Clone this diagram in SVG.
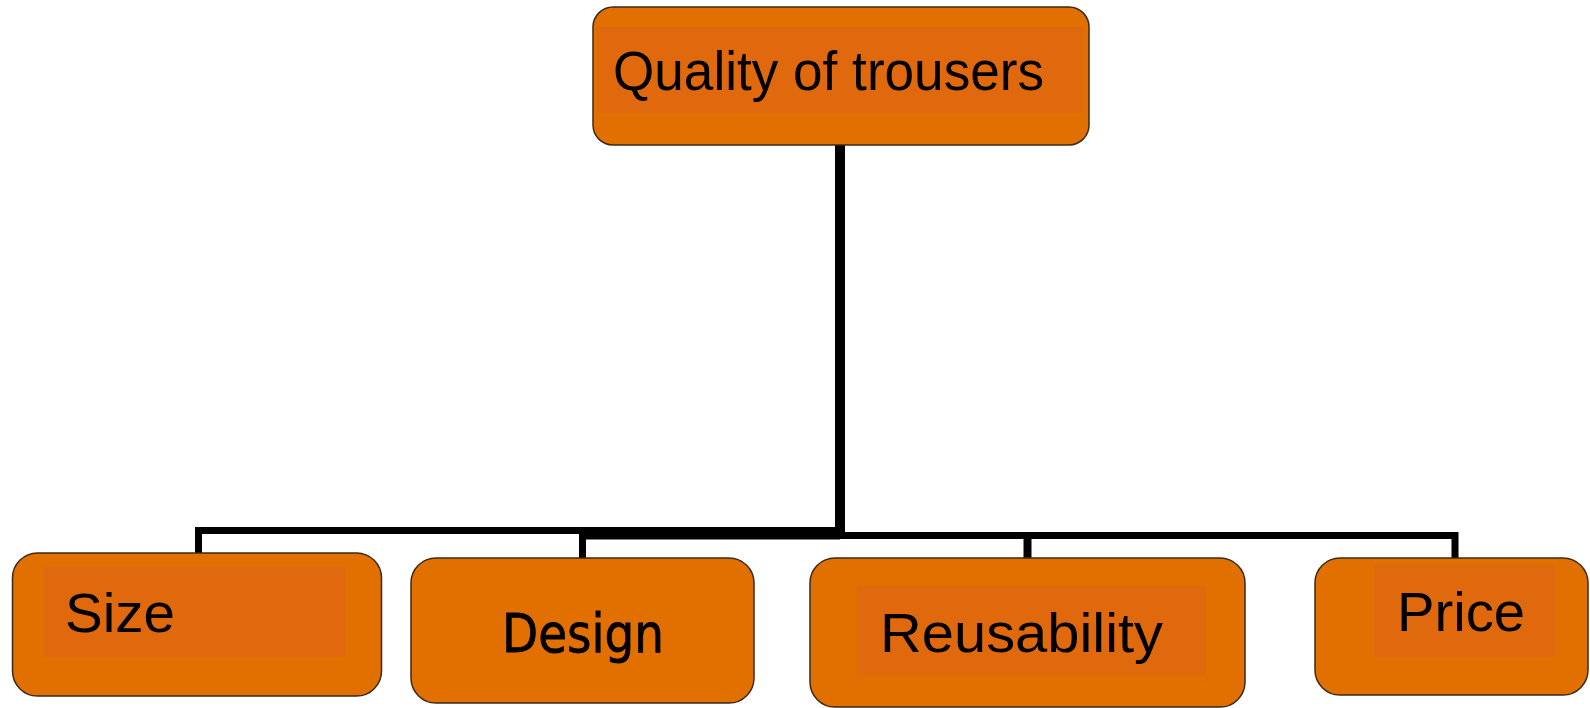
<svg xmlns="http://www.w3.org/2000/svg" width="1590" height="708" viewBox="0 0 1590 708">
<style>
.box{fill:#E17000;stroke:#3a2a1a;stroke-width:1.5}
.inner{fill:#E0690D}
.lbl{font-family:"Liberation Sans",Arial,sans-serif;font-size:56px;fill:#000}
.conn{fill:none;stroke:#000;stroke-linejoin:miter;stroke-linecap:butt}
</style>
<rect width="1590" height="708" fill="#fff"/>
<g id="connectors">
<path class="conn" stroke-width="7" d="M198.5 554 V530.5 H840"/>
<path class="conn" stroke-width="7" d="M582.5 559 V536 H840"/>
<path class="conn" stroke-width="10" d="M840 145 V539"/>
<path class="conn" stroke-width="7" d="M840 535.5 H1455 V559"/>
<path class="conn" stroke-width="8" d="M1027.5 535.5 V559"/>
</g>
<g id="node-quality">
<rect class="box" x="593" y="7" width="496" height="138" rx="20"/>
<rect class="inner" x="597" y="27" width="486" height="86"/>
<text class="lbl" x="613" y="90" textLength="431" lengthAdjust="spacingAndGlyphs">Quality of trousers</text>
</g>
<g id="node-size">
<rect class="box" x="12.5" y="553" width="369" height="143" rx="25"/>
<rect class="inner" x="44" y="566" width="302" height="91"/>
<text class="lbl" x="65" y="632" textLength="110" lengthAdjust="spacingAndGlyphs">Size</text>
</g>
<g id="node-design">
<rect class="box" x="411" y="558" width="343" height="145" rx="25"/>
<text x="502" y="652" font-family="'DejaVu Sans',Verdana,sans-serif" font-size="54" fill="#000" stroke="#000" stroke-width="0.8" textLength="162" lengthAdjust="spacingAndGlyphs">Design</text>
</g>
<g id="node-reusability">
<rect class="box" x="810" y="558" width="435" height="149" rx="25"/>
<rect class="inner" x="857" y="585" width="349" height="90"/>
<text class="lbl" x="880" y="652" textLength="283" lengthAdjust="spacingAndGlyphs">Reusability</text>
</g>
<g id="node-price">
<rect class="box" x="1315" y="558" width="273" height="137" rx="25"/>
<rect class="inner" x="1374" y="565" width="181" height="92"/>
<text class="lbl" x="1397" y="631" textLength="128" lengthAdjust="spacingAndGlyphs">Price</text>
</g>
</svg>
